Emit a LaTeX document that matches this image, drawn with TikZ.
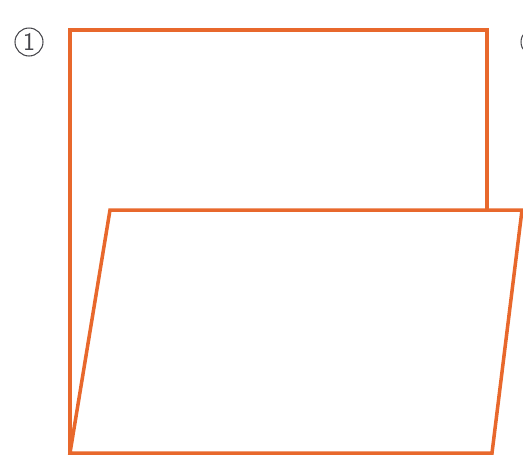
\documentclass[tikz,border=0pt]{standalone}
\usepackage{tikz}
\usetikzlibrary{positioning,calc}
\definecolor{fdOrange}{RGB}{232,104,44}
\definecolor{fdGray}{RGB}{70,70,75}
\tikzset{
    base/.style={font=\sffamily, align=center},
    fold/.style={draw=fdOrange, line width=2pt, line join=miter},
    stepnum/.style={base, circle, draw=fdGray, semithick, text=fdGray,
                    inner sep=0pt, minimum size=5.6mm, font=\sffamily\Large}
}
\begin{document}
\begin{tikzpicture}[x=0.02cm, y=-0.02cm]
  \useasboundingbox (0,0) rectangle (523,457);
  \clip (0,0) rectangle (523,457);

  % Corners
  \coordinate (bTL) at (70,30);
  \coordinate (bTR) at (487,30);
  \coordinate (bRM) at (487,210);
  \coordinate (fTL) at (110,210);
  \coordinate (fTR) at (522,210);
  \coordinate (fBR) at (492,453);
  \coordinate (fBL) at (70,453);

  % Labels
  \node[stepnum] (s1) at (29,42) {1};
  \node[stepnum] (s2) at (535,42) {2};

  % Sheets
  \draw[fold] (bRM) -- (bTR) -- (bTL) -- (fBL);
  \draw[fold] (fBL) -- (fTL) -- (fTR) -- (fBR) -- cycle;
\end{tikzpicture}
\end{document}
